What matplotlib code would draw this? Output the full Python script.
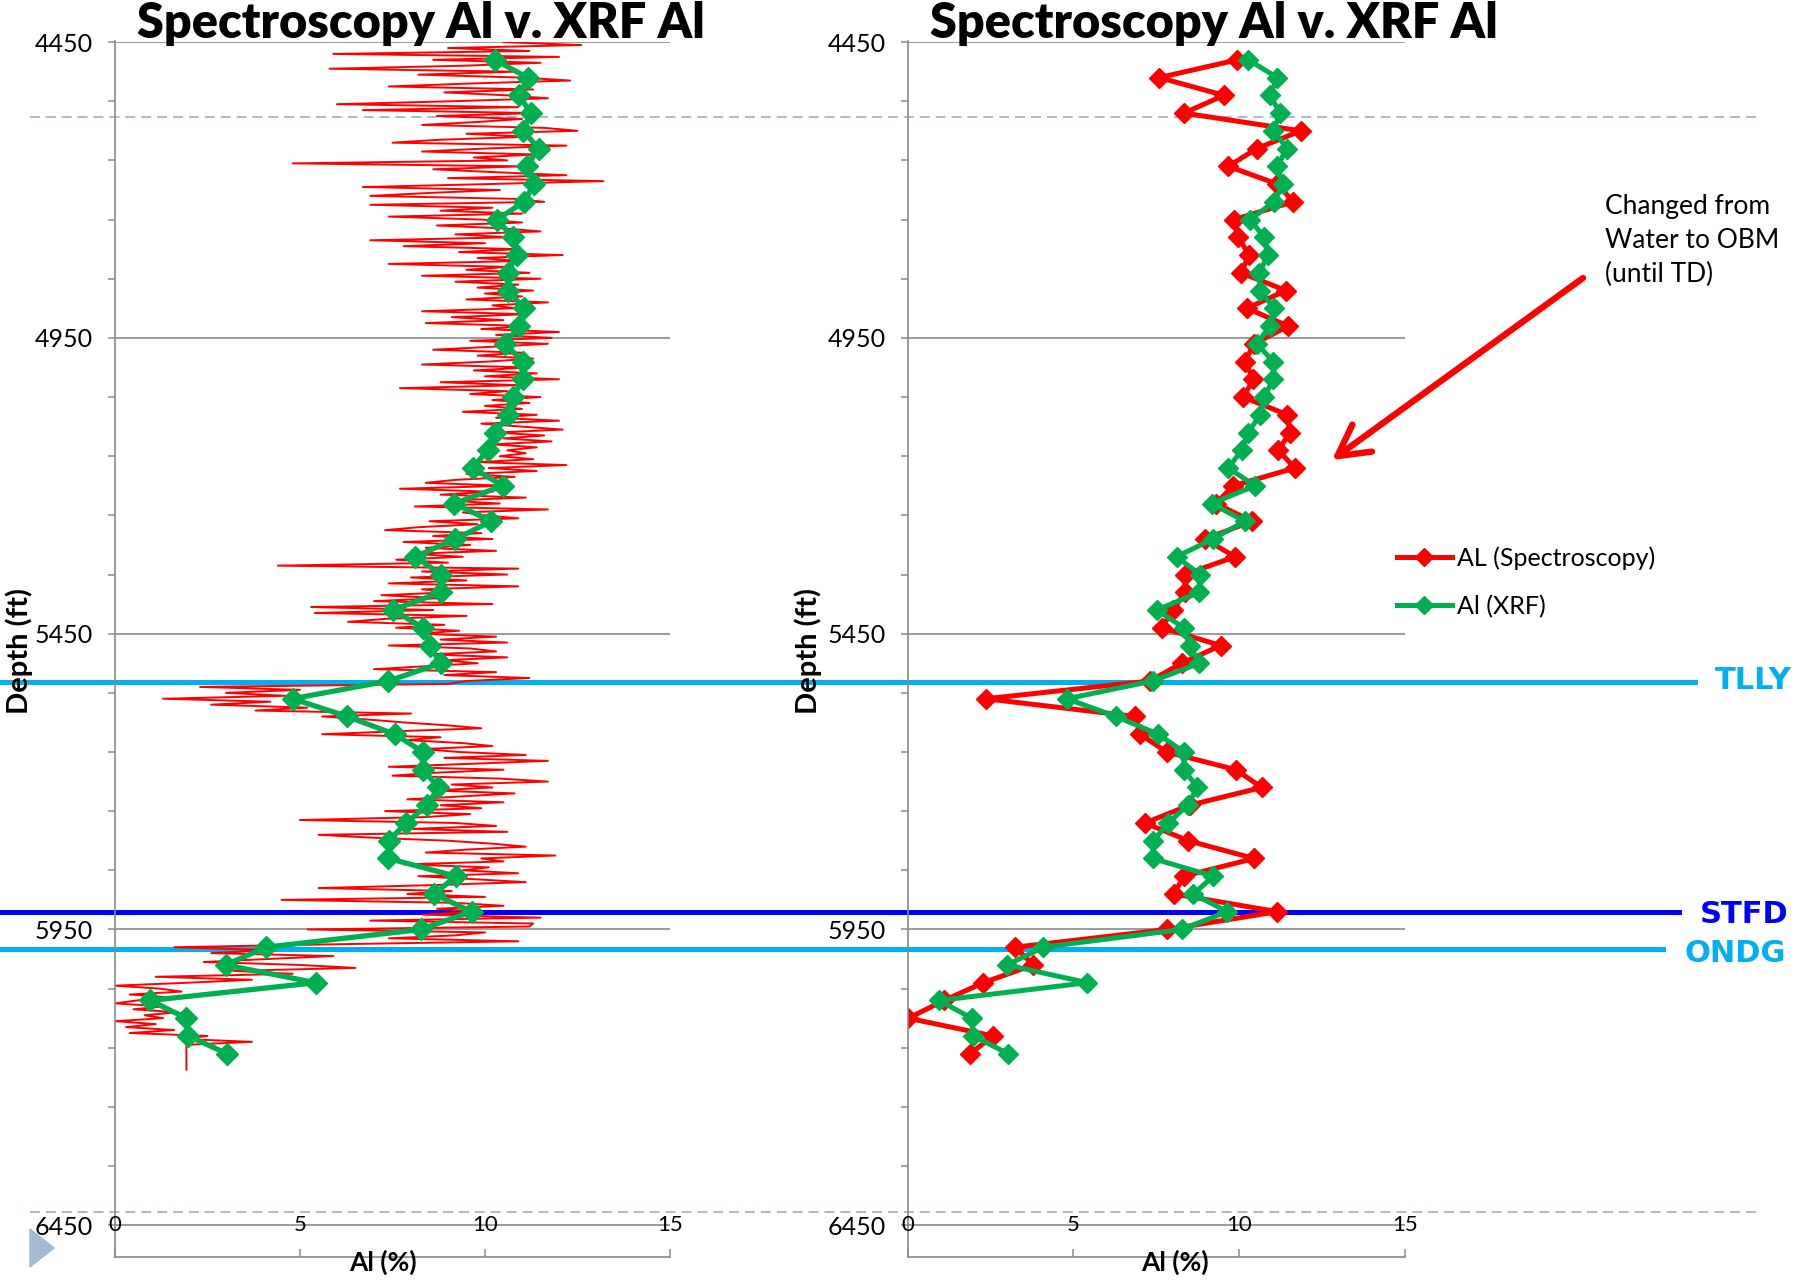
import numpy as np
import matplotlib
matplotlib.use('Agg')
import matplotlib.pyplot as plt
import matplotlib.transforms as mtransforms
from matplotlib.lines import Line2D
from matplotlib.patches import Polygon

plt.rcParams['font.family'] = ['Lato', 'DejaVu Sans']

# cuttings samples (XRF) and spectroscopy picks at the same depths
sample_depth = [4480, 4510, 4540, 4570, 4600, 4630, 4660, 4690, 4720, 4750,
                4780, 4810, 4840, 4870, 4900, 4930, 4960, 4990, 5020, 5050,
                5080, 5110, 5140, 5170, 5200, 5230, 5260, 5290, 5320, 5350,
                5380, 5410, 5440, 5470, 5500, 5530, 5560, 5590, 5620, 5650,
                5680, 5710, 5740, 5770, 5800, 5830, 5860, 5890, 5920, 5950,
                5980, 6010, 6040, 6070, 6100, 6130, 6160]
xrf_al = [10.27, 11.15, 10.93, 11.23, 11.03, 11.45, 11.13, 11.33, 11.05, 10.33,
          10.75, 10.86, 10.61, 10.63, 11.05, 10.93, 10.53, 11.03, 11.03, 10.75,
          10.63, 10.27, 10.07, 9.67, 10.48, 9.17, 10.17, 9.2, 8.11, 8.82,
          8.80, 7.51, 8.33, 8.5, 8.80, 7.39, 4.8, 6.28, 7.56, 8.33,
          8.33, 8.74, 8.44, 7.86, 7.41, 7.39, 9.22, 8.62, 9.64, 8.26,
          4.09, 2.99, 5.42, 0.95, 1.93, 1.98, 3.03]
spec_al = [9.94, 7.59, 9.54, 8.33, 11.85, 10.53, 9.67, 11.15, 11.63, 9.84,
           9.97, 10.30, 10.05, 11.41, 10.23, 11.48, 10.45, 10.17, 10.43, 10.12,
           11.45, 11.53, 11.18, 11.68, 9.82, 9.3, 10.38, 8.97, 9.87, 8.36,
           8.36, 8.01, 7.66, 9.44, 8.26, 7.31, 2.36, 6.86, 7.01, 7.81,
           9.90, 10.68, 8.5, 7.16, 8.46, 10.45, 8.33, 8.03, 11.15, 7.83,
           3.24, 3.79, 2.28, 1.1, 0.02, 2.58, 1.88]

# continuous spectroscopy log, one value every 5 ft from 4450 ft
log_top = 4450
log_step = 5
spec_log_al = [
    10.5, 12.6, 9.0, 11.2, 5.9, 12.0, 8.6, 11.5, 9.4, 5.8,
    10.8, 8.2, 11.0, 12.3, 9.6, 7.4, 11.3, 8.9, 10.6, 11.7,
    9.1, 6.0, 10.9, 6.7, 11.4, 8.7, 11.0, 9.8, 8.3, 11.6,
    12.5, 9.5, 11.2, 8.8, 7.5, 12.2, 10.0, 8.3, 11.4, 9.7,
    10.6, 4.8, 11.0, 8.6, 10.3, 12.2, 9.0, 13.2, 10.1, 6.7,
    10.4, 8.5, 6.9, 10.8, 11.6, 6.9, 10.2, 8.8, 11.0, 7.4,
    9.9, 11.0, 8.7, 10.5, 11.5, 9.2, 10.7, 6.9, 10.0, 7.8,
    10.9, 9.3, 12.1, 9.8, 11.0, 7.4, 10.6, 9.5, 11.2, 8.3,
    11.5, 9.2, 10.9, 9.8, 11.3, 10.0, 11.0, 9.5, 11.7, 10.2,
    10.8, 8.3, 11.1, 9.1, 10.5, 8.4, 11.2, 9.9, 12.0, 10.3,
    11.8, 9.6, 11.7, 10.2, 8.6, 11.0, 9.8, 11.3, 10.1, 8.3,
    11.2, 9.7, 11.4, 10.0, 12.0, 8.8, 10.9, 7.7, 10.6, 9.6,
    11.5, 10.2, 11.2, 10.0, 11.0, 9.4, 11.4, 10.3, 12.0, 9.9,
    11.0, 12.1, 10.3, 11.6, 10.5, 11.8, 10.2, 11.4, 10.6, 11.1,
    10.4, 11.3, 9.8, 12.2, 10.1, 11.4, 9.5, 10.8, 9.2, 8.4,
    10.6, 7.7, 10.2, 8.8, 11.1, 9.0, 10.4, 8.1, 11.7, 9.4,
    10.0, 10.9, 8.5, 9.8, 8.2, 7.3, 9.9, 8.6, 10.2, 7.8,
    9.6, 8.4, 10.3, 8.0, 9.4, 7.6, 9.0, 4.4, 10.9, 8.3,
    10.6, 8.0, 9.5, 7.4, 10.9, 8.3, 9.1, 7.2, 8.8, 7.0,
    10.2, 5.3, 8.6, 5.4, 9.5, 7.3, 6.3, 8.9, 7.6, 9.3,
    8.2, 10.3, 8.8, 10.6, 7.4, 9.6, 10.3, 8.5, 10.6, 8.9,
    9.8, 8.4, 7.0, 10.3, 8.9, 11.2, 9.5, 9.0, 2.3, 5.0,
    3.0, 4.6, 1.3, 4.2, 2.6, 5.2, 3.8, 8.0, 5.6, 6.8,
    7.8, 9.0, 9.9, 7.6, 5.6, 8.8, 7.9, 9.4, 10.2, 8.3,
    9.3, 11.1, 8.9, 11.7, 9.6, 7.4, 10.5, 8.7, 7.5, 10.4,
    11.7, 9.1, 10.2, 8.6, 10.8, 9.4, 7.9, 10.5, 8.8, 9.9,
    7.3, 9.6, 8.4, 5.0, 9.2, 10.3, 8.0, 10.6, 5.5, 7.0,
    9.0, 10.2, 11.1, 9.5, 8.4, 11.9, 9.9, 10.5, 7.8, 10.1,
    9.4, 10.9, 8.2, 9.7, 11.1, 8.6, 5.5, 9.1, 7.9, 10.0,
    4.5, 9.2, 10.5, 8.7, 9.8, 8.3, 11.5, 6.9, 11.3, 11.2,
    5.2, 10.0, 9.2, 7.4, 10.9, 6.0, 1.6, 4.2, 2.6, 5.9,
    4.1, 2.4, 5.0, 6.5, 3.2, 4.8, 1.1, 3.7, 2.0, 0.0,
    1.2, 1.8, 0.4, 1.5, 0.6, 0.0, 1.3, 0.5, 1.7, 0.8,
    1.3, 0.0, 1.1, 0.3, 1.6, 0.4, 2.5, 1.8, 3.7, 1.93,
]
log_tail_depth = [6187]
log_tail_al = [1.93]

# formation tops
tops_name = ['TLLY', 'STFD', 'ONDG']
tops_depth = [5532, 5920, 5983]
tops_color = ['#00B0F0', '#0000FF', '#00B0F0']

depth_ticks = [4450, 4950, 5450, 5950, 6450]
al_ticks = [0, 5, 10, 15]

RED = '#FF0000'
GREEN = '#00B050'
GRID = '#8a8a8a'

W, H = 1806, 1282
fig = plt.figure(figsize=(W / 100, H / 100), dpi=100)


def px_rect(x0, x1, y_top, y_bot):
    # pixel box (from top-left) -> figure fraction rect
    return [x0 / W, 1 - y_bot / H, (x1 - x0) / W, (y_bot - y_top) / H]


ax1 = fig.add_axes(px_rect(115, 670, 41.5, 1256.6))
ax2 = fig.add_axes(px_rect(907.7, 1405, 41.5, 1256.6))

for ax in (ax1, ax2):
    ax.set_zorder(1)
    ax.set_facecolor('none')
    ax.set_xlim(0, 15)
    ax.set_ylim(6503, 4449)
    ax.set_yticks(depth_ticks)
    ax.set_yticklabels([str(d) for d in depth_ticks], fontsize=18)
    ax.set_yticks(np.arange(4550, 6450, 100), minor=True)
    ax.set_xticks(al_ticks)
    ax.tick_params(axis='x', direction='in', length=6, width=1.1,
                   color=GRID, labelbottom=False)
    ax.tick_params(axis='y', which='both', direction='out', length=5,
                   width=1.1, color=GRID, pad=11)
    ax.grid(axis='y', which='major', color=GRID, lw=1.2)
    ax.set_axisbelow(True)
    for s in ['top', 'right']:
        ax.spines[s].set_visible(False)
    for s in ['left', 'bottom']:
        ax.spines[s].set_color(GRID)
        ax.spines[s].set_linewidth(1.2)
    # Excel puts the value labels on the 6450 line
    for v in al_ticks:
        ax.text(v, 6450, str(v), ha='center', va='center', fontsize=16)

# left: continuous log + XRF
log_depth = log_top + log_step * np.arange(len(spec_log_al))
ax1.plot(list(spec_log_al) + log_tail_al, list(log_depth) + log_tail_depth,
         color=RED, lw=1.4, zorder=2)
ax1.plot(xrf_al, sample_depth, color=GREEN, lw=3.8, marker='D', ms=11, zorder=3)

# right: spectroscopy picks + XRF
ax2.plot(spec_al, sample_depth, color=RED, lw=3.6, marker='D', ms=10,
         label='AL (Spectroscopy)', zorder=2)
ax2.plot(xrf_al, sample_depth, color=GREEN, lw=3.6, marker='D', ms=10,
         label='Al (XRF)', zorder=3)

ax2.legend(loc='center left', bbox_to_anchor=(1397 / W, 1 - 582 / H),
           bbox_transform=fig.transFigure, frameon=False, fontsize=18,
           handlelength=2.2, handletextpad=0.2, labelspacing=1.0,
           borderpad=0, borderaxespad=0, markerscale=0.9)

# formation top lines across the whole slide
tr = mtransforms.blended_transform_factory(fig.transFigure, ax1.transData)
line_end = [1695, 1679, 1663]
label_x = [1715, 1700, 1685]
label_shift = [-2, 5, 8]
for name, d, c, xe, xl, sh in zip(tops_name, tops_depth, tops_color,
                                  line_end, label_x, label_shift):
    fig.add_artist(Line2D([0, xe / W], [d, d], transform=tr, color=c, lw=3.6, zorder=0.5))
    fig.text(xl / W, d + sh, name, transform=tr, color=c, fontsize=22,
             fontweight='bold', family='DejaVu Sans', ha='left', va='center')

# slide decoration
for y in [116.5, 1211.7]:
    fig.add_artist(Line2D([30 / W, 1760 / W], [1 - y / H] * 2, color='#9fb6cf',
                          lw=1.3, ls=(0, (5.5, 3.3)), zorder=0.4))
fig.add_artist(Polygon([(30 / W, 1 - 1229 / H), (54 / W, 1 - 1248 / H), (30 / W, 1 - 1267 / H)],
                       closed=True, color='#a3bad3', transform=fig.transFigure))

# titles and axis labels
for xc in [421, 1214]:
    fig.text(xc / W, 1 - 38 / H, 'Spectroscopy Al v. XRF Al', fontsize=35,
             fontweight='heavy', ha='center', va='baseline')
for xc in [19, 808.6]:
    fig.text(xc / W, 1 - 651 / H, 'Depth (ft)', rotation=90, fontsize=21,
             fontweight='bold', ha='center', va='center')
for xc in [383, 1175]:
    fig.text(xc / W, 1 - 1262 / H, 'Al (%)', fontsize=19, fontweight='bold',
             ha='center', va='center')

# note about mud change
fig.text(1605 / W, 1 - 194 / H, 'Changed from\nWater to OBM\n(until TD)',
         fontsize=19, ha='left', va='top', linespacing=1.45)
ax2.annotate('', xy=(1332, H - 460), xycoords='figure pixels',
             xytext=(1583, H - 278), textcoords='figure pixels',
             arrowprops=dict(arrowstyle='->,head_length=1.1,head_width=0.6',
                             mutation_scale=20, color=RED, lw=4.6,
                             shrinkA=0, shrinkB=0))

fig.savefig('out.png', dpi=100)
